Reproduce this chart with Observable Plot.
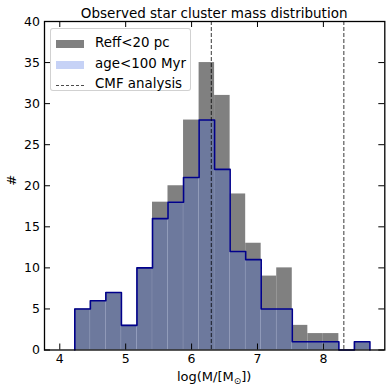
<!DOCTYPE html>
<html>
<head>
<meta charset="utf-8">
<script src="https://cdn.jsdelivr.net/npm/d3@7"></script>
<script src="https://cdn.jsdelivr.net/npm/@observablehq/plot@0.6"></script>
<style>
  html, body { margin: 0; padding: 0; background: white; }
  #wrap { position: relative; width: 392px; height: 392px; font-family: "DejaVu Sans", sans-serif; }
  #legend { position: absolute; left: 50px; top: 28px; width: 141px; height: 63px;
    border: 1px solid rgba(204,204,204,0.9); border-radius: 3px; background: rgba(255,255,255,0.85);
    box-sizing: border-box; font-size: 13.4px; color: #000; }
  .row { position: absolute; left: 0; height: 16px; width: 100%; }
  .sw { position: absolute; left: 5px; width: 28px; height: 8px; top: 4px; }
  .lbl { position: absolute; left: 44px; top: -1px; white-space: nowrap; line-height: 16px; }
</style>
</head>
<body>
<div id="wrap">
  <div id="chart"></div>
  <div id="legend"></div>
</div>
<script>
// ---- data ----
const binEdges = [4.228, 4.464, 4.699, 4.935, 5.171, 5.407, 5.642, 5.878, 6.114, 6.349,
                  6.585, 6.821, 7.056, 7.292, 7.528, 7.764, 7.999, 8.235, 8.471, 8.706];
const reffCounts = [5, 6, 7, 3, 10, 18, 20, 28, 35, 31, 19, 13, 9, 10, 3, 2, 2, 0, 1];
const youngCounts = [5, 6, 7, 3, 10, 16, 18, 21, 28, 22, 12, 11, 5, 5, 1, 1, 1, 0, 1];
const cmfLimits = [6.30, 8.31];
const xTicks = [4, 5, 6, 7, 8];
const yTicks = [0, 5, 10, 15, 20, 25, 30, 35, 40];
const legendLabels = ["Reff<20 pc", "age<100 Myr", "CMF analysis"];
const titleText = "Observed star cluster mass distribution";

// ---- derived tables ----
const bins = reffCounts.map((c, i) => ({x1: binEdges[i], x2: binEdges[i + 1], reff: c, young: youngCounts[i]}));
const step = [{x: binEdges[0], y: 0}];
youngCounts.forEach((c, i) => { step.push({x: binEdges[i], y: c}); step.push({x: binEdges[i + 1], y: c}); });
step.push({x: binEdges[binEdges.length - 1], y: 0});

const W = 392, H = 392, mL = 44, mR = 7.7, mT = 21, mB = 42.5;
const fw = W - mL - mR, fh = H - mT - mB, tk = 6;

const svg = Plot.plot({
  width: W, height: H,
  marginLeft: mL, marginRight: mR, marginTop: mT, marginBottom: mB,
  style: {fontFamily: "DejaVu Sans, sans-serif", fontSize: "12.5px", color: "black", background: "white", overflow: "visible"},
  x: {domain: [3.768, 8.932], ticks: xTicks, tickSize: 0, tickPadding: 4.5, label: null, tickFormat: d => String(d)},
  y: {domain: [0, 40], ticks: yTicks, tickSize: 0, tickPadding: 4.5, label: null, tickFormat: d => String(d)},
  marks: [
    Plot.rectY(bins, {x1: "x1", x2: "x2", y: "reff", fill: "#808080"}),
    Plot.rectY(bins, {x1: "x1", x2: "x2", y: "young", fill: "#4169e1", fillOpacity: 0.3, stroke: "white", strokeOpacity: 0.12, strokeWidth: 0.6}),
    Plot.line(step, {x: "x", y: "y", stroke: "#00008b", strokeWidth: 1.6}),
    Plot.ruleX(cmfLimits, {x: d => d, stroke: "black", strokeOpacity: 0.65, strokeWidth: 1.2, strokeDasharray: "4,2"}),
    Plot.ruleX(xTicks, {x: d => d, insetTop: fh - tk, stroke: "black", strokeWidth: 1}),
    Plot.ruleX(xTicks, {x: d => d, insetBottom: fh - tk, stroke: "black", strokeWidth: 1}),
    Plot.ruleY(yTicks, {y: d => d, insetRight: fw - tk, stroke: "black", strokeWidth: 1}),
    Plot.ruleY(yTicks, {y: d => d, insetLeft: fw - tk, stroke: "black", strokeWidth: 1}),
    Plot.frame({stroke: "black", strokeWidth: 1.3}),
    Plot.text(["#"], {frameAnchor: "left", dx: -33, text: d => d, rotate: -90, fontSize: 13})
  ]
});

const s = d3.select(svg);
s.append("text").attr("x", mL + fw / 2).attr("y", 17.5).attr("text-anchor", "middle")
  .attr("font-size", 13.5).attr("fill", "black").text(titleText);
const xl = s.append("text").attr("x", mL + fw / 2).attr("y", 381).attr("text-anchor", "middle")
  .attr("font-size", 13).attr("fill", "black");
xl.append("tspan").text("log(M/[M");
xl.append("tspan").attr("font-size", 9).attr("dy", 3).text("\u2299");
xl.append("tspan").attr("dy", -3).text("])");

document.getElementById("chart").appendChild(svg);

// legend
const leg = document.getElementById("legend");
const rows = [
  {label: legendLabels[0], kind: "patch", color: "#808080", top: 7},
  {label: legendLabels[1], kind: "patch", color: "rgba(65,105,225,0.3)", top: 27.5},
  {label: legendLabels[2], kind: "dash", top: 48}
];
rows.forEach(r => {
  const row = document.createElement("div");
  row.className = "row"; row.style.top = r.top + "px";
  const sw = document.createElement("div");
  sw.className = "sw";
  if (r.kind === "patch") { sw.style.background = r.color; }
  else { sw.style.height = "0px"; sw.style.top = "8px"; sw.style.borderTop = "1.2px dashed rgba(0,0,0,0.7)"; }
  const lb = document.createElement("div");
  lb.className = "lbl"; lb.textContent = r.label;
  row.appendChild(sw); row.appendChild(lb); leg.appendChild(row);
});
</script>
</body>
</html>
